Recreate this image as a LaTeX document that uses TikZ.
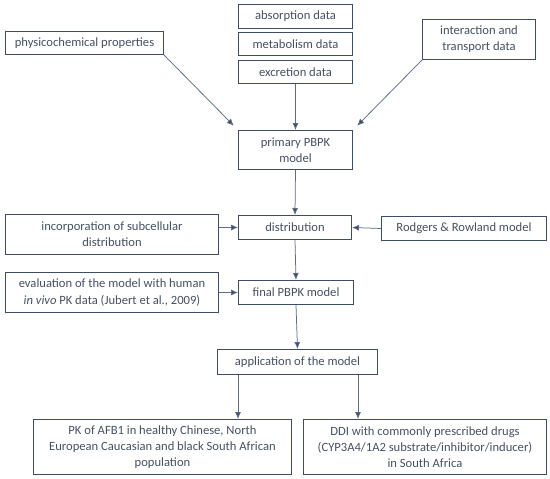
\documentclass[tikz,border=0pt]{standalone}
\usepackage{fontspec}
\setmainfont{Carlito}
\usetikzlibrary{arrows.meta}
\definecolor{navy}{HTML}{3E4D66}
\definecolor{txtgray}{HTML}{465062}
\definecolor{linegray}{HTML}{5E6B84}
\begin{document}
\begin{tikzpicture}[x=1pt,y=-1pt,
base/.style={
draw=navy,
line width=1pt,
anchor=north west,
align=center,
inner sep=2pt,
text=txtgray,
font={\fontsize{12.6pt}{16.2pt}\selectfont},
},
arr/.style={
draw=linegray,
line width=0.75pt,
-{Latex[length=7pt,width=6pt,fill=navy]},
},
]
\useasboundingbox (0,0) rectangle (550,479);
% data boxes on top
\node[base,minimum width=114pt,minimum height=24pt](abs)at(238,4){absorption data};
\node[base,minimum width=114pt,minimum height=23pt](met)at(238,32){metabolism data};
\node[base,minimum width=114pt,minimum height=23pt](exc)at(238,60){excretion data};
\node[base,minimum width=158pt,minimum height=23pt](phys)at(5,31){physicochemical properties};
\node[base,minimum width=113pt,minimum height=40pt](inter)at(422,19){interaction and\\transport data};
% model chain
\node[base,minimum width=114pt,minimum height=39pt](prim)at(238,130){primary PBPK\\model};
\node[base,minimum width=113pt,minimum height=24pt](dist)at(238,215){distribution};
\node[base,minimum width=213pt,minimum height=40pt](inc)at(5,214){incorporation of subcellular\\distribution};
\node[base,minimum width=165pt,minimum height=24pt](rod)at(381,216){Rodgers \& Rowland model};
\node[base,minimum width=115pt,minimum height=24pt](fin)at(238,280){final PBPK model};
\node[base,minimum width=213pt,minimum height=40pt](eva)at(5,272){evaluation of the model with human\\\textit{in vivo} PK data (Jubert et al., 2009)};
\node[base,minimum width=160pt,minimum height=25pt](app)at(217,349){application of the model};
% results
\node[base,minimum width=258pt,minimum height=55pt](pk)at(33,419){PK of AFB1 in healthy Chinese, North\\European Caucasian and black South African\\population};
\node[base,minimum width=243pt,minimum height=55pt](ddi)at(303,419){DDI with commonly prescribed drugs\\(CYP3A4/1A2 substrate/inhibitor/inducer)\\in South Africa};

\coordinate (appl) at ([xshift=21pt]app.south west);
\coordinate (appr) at ([xshift=-20pt]app.south east);

\draw[arr](exc.south)--(prim.north);
\draw[arr,shorten >=6pt](phys.south east)--(prim.north west);
\draw[arr,shorten >=6pt](inter.south west)--(prim.north east);
\draw[arr](prim.south)--(dist.north);
\draw[arr](inc.east |- dist.west)--(dist.west);
\draw[arr](rod.west)--(dist.east);
\draw[arr](dist.south)--(fin.north);
\draw[arr](eva.east)--(fin.west);
\draw[arr](fin.south)--(app.north);
\draw[arr](appl)--(appl |- pk.north);
\draw[arr](appr)--(appr |- ddi.north);

\end{tikzpicture}
\end{document}
